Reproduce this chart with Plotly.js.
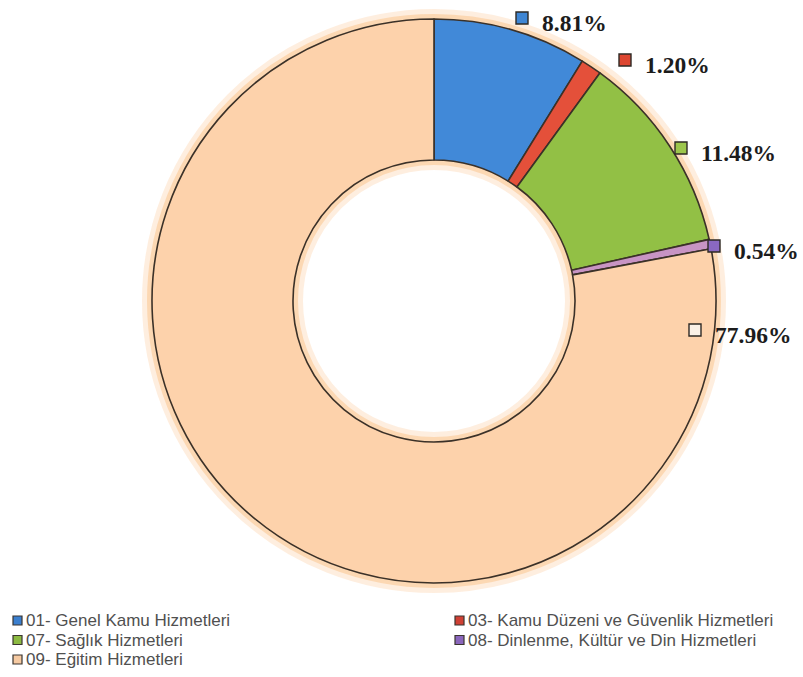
<!DOCTYPE html>
<html>
<head>
<meta charset="utf-8">
<script src="https://cdn.plot.ly/plotly-3.0.1.min.js"></script>
<style>html,body{margin:0;padding:0;background:#fff;}#chart{width:803px;height:677px;}</style>
</head>
<body>
<div id="chart"></div>
<script>
// ---- data ----
const categories = [
  '01- Genel Kamu Hizmetleri',
  '03- Kamu Düzeni ve Güvenlik Hizmetleri',
  '07- Sağlık Hizmetleri',
  '08- Dinlenme, Kültür ve Din Hizmetleri',
  '09- Eğitim Hizmetleri'
];
const values = [8.81, 1.20, 11.48, 0.54, 77.96];

// ---- styles / layout ----
const sliceColors = ['#4189d8', '#e4503a', '#92c045', '#c894c4', '#fdd2ab'];
const labelMarkerColors = ['#3f86d4', '#dd4630', '#9cc64c', '#8a68c2', '#fbf1e6'];
const legendMarkerColors = ['#3b7fcf', '#cf4034', '#8cba42', '#8a66bc', '#f6caa2'];
// label text anchor positions in pixels [left x, center y]
const labelPos = [[540, 23], [643, 65], [699, 153], [732, 251], [713, 335]];

const W = 803, H = 677;
const cx = 434, cy = 301, R = 282, holeFrac = 0.5;
const px = x => x / W, py = y => 1 - y / H;

const shapes = [];
// soft orange glow around outer and inner edges
[R, R * holeFrac].forEach(r => {
  [[20, 'rgba(253,200,150,0.30)'], [10, 'rgba(251,185,120,0.42)']].forEach(([w, c]) => {
    shapes.push({type: 'circle', xref: 'paper', yref: 'paper', layer: 'below',
      x0: px(cx - r), x1: px(cx + r), y0: py(cy + r), y1: py(cy - r),
      line: {color: c, width: w}, fillcolor: 'rgba(0,0,0,0)'});
  });
});
const annotations = [];
values.forEach((v, i) => {
  const [lx, ly] = labelPos[i];
  shapes.push({type: 'rect', xref: 'paper', yref: 'paper', layer: 'above',
    x0: px(lx - 24), x1: px(lx - 12), y0: py(ly + 1), y1: py(ly - 11),
    fillcolor: labelMarkerColors[i], line: {color: '#2e2a25', width: 1.4}});
  annotations.push({xref: 'paper', yref: 'paper', x: px(lx), y: py(ly),
    xanchor: 'left', yanchor: 'middle', showarrow: false,
    text: '<b>' + v.toFixed(2) + '%</b>',
    font: {family: 'Liberation Serif', size: 23.5, color: '#1c1c1c'}});
});

// legend (two columns, filled row by row)
const legColX = [13, 455], legRowY = [620.5, 640, 659.5];
categories.forEach((c, i) => {
  const lx = legColX[i % 2], ly = legRowY[Math.floor(i / 2)];
  shapes.push({type: 'rect', xref: 'paper', yref: 'paper', layer: 'above',
    x0: px(lx), x1: px(lx + 9), y0: py(ly + 4.5), y1: py(ly - 4.5),
    fillcolor: legendMarkerColors[i], line: {color: '#3a3530', width: 1.2}});
  annotations.push({xref: 'paper', yref: 'paper', x: px(lx + 11), y: py(ly),
    xanchor: 'left', yanchor: 'middle', showarrow: false, text: c,
    font: {family: 'Liberation Sans', size: 17, color: '#505050'}});
});

const trace = {
  type: 'pie',
  labels: categories,
  values: values,
  hole: holeFrac,
  sort: false,
  direction: 'clockwise',
  rotation: 0,
  textinfo: 'none',
  hoverinfo: 'label+percent',
  marker: {colors: sliceColors, line: {color: '#3b3128', width: 1.6}},
  domain: {x: [px(cx - R), px(cx + R)], y: [py(cy + R), py(cy - R)]}
};

const layout = {
  width: W, height: H,
  margin: {l: 0, r: 0, t: 0, b: 0},
  paper_bgcolor: '#ffffff',
  showlegend: false,
  shapes: shapes,
  annotations: annotations
};

Plotly.newPlot('chart', [trace], layout, {displayModeBar: false, staticPlot: true});
</script>
</body>
</html>
